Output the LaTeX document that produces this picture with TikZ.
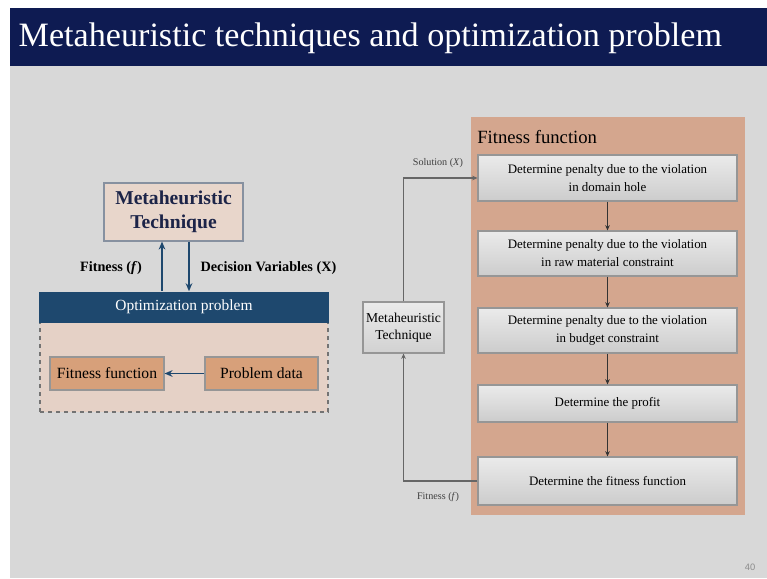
\documentclass[tikz,border=0pt]{standalone}
\usepackage{fontspec}
\setmainfont{Liberation Serif}
\newfontfamily\pagenumfont{Liberation Sans}
\usepackage{tikz}
\usetikzlibrary{positioning}
\usetikzlibrary{arrows.meta}

\definecolor{titlenavy}{RGB}{14,27,82}
\definecolor{slidegray}{RGB}{216,216,216}
\definecolor{metafill}{RGB}{232,214,203}
\definecolor{metaline}{RGB}{135,145,160}
\definecolor{metatext}{RGB}{28,36,72}
\definecolor{optblue}{RGB}{30,72,110}
\definecolor{dashfill}{RGB}{229,209,198}
\definecolor{orangebox}{RGB}{215,160,122}
\definecolor{panelfill}{RGB}{212,166,142}
\definecolor{boxline}{RGB}{150,150,150}

\tikzset{
  leftbox/.style={draw=boxline, fill=orangebox, line width=0.8pt, inner sep=0pt,
    font=\fontsize{11.7}{13}\selectfont},
  stepbox/.style={draw=boxline, line width=0.8pt, top color=white!92!black,
    bottom color=white!80!black, inner sep=0pt, minimum width=259*0.75pt,
    align=center, font=\fontsize{9.7}{13.5}\selectfont},
  bluearrow/.style={draw=optblue, line width=1.2pt, -{Stealth[length=6pt,width=5pt]}},
  grayarrow/.style={draw=black!60, line width=0.8pt, -{Stealth[length=4pt,width=3.5pt]}},
  downarrow/.style={draw=black!80, line width=0.7pt, -{Stealth[length=4pt,width=3.5pt]}},
  smalllabel/.style={font=\fontsize{7.6}{9}\selectfont, text=black!75}
}

\begin{document}
\begin{tikzpicture}[x=0.75pt,y=0.75pt,yscale=-1,xscale=1]
\useasboundingbox (0,0) rectangle (767,578);
\fill [white] (0,0) rectangle (767,578);
\fill [slidegray] (10,8) rectangle (767,578);

% Title bar
\fill [titlenavy] (10,8) rectangle (767,66);
\node (title) [anchor=west, text=white, font=\fontsize{25.6}{28}\selectfont] at (14,38)
  {Metaheuristic techniques and optimization problem};

%%% left picture
% Text Node
\node (meta) [draw=metaline, fill=metafill, line width=0.9pt, inner sep=0pt,
  minimum width=139*0.75pt, minimum height=58*0.75pt, align=center, text=metatext,
  font=\fontsize{14.7}{18}\selectfont\bfseries] at (173.5,212) {Metaheuristic\\Technique};
% Dashed frame
\node (optframe) [draw=black!55, dashed, fill=dashfill, line width=0.8pt, inner sep=0pt,
  minimum width=288*0.75pt, minimum height=110*0.75pt] at (184,357) {};
% Text Node
\node (opt) [fill=optblue, text=white, inner sep=0pt, minimum width=290*0.75pt,
  minimum height=31*0.75pt, font=\fontsize{11.6}{13}\selectfont] at (184,307) {Optimization problem};
% Text Node
\node (fitfun) [leftbox, minimum width=114*0.75pt, minimum height=33*0.75pt] at (107,373.5) {Fitness function};
\node (probdata) [leftbox, minimum width=113*0.75pt, minimum height=33*0.75pt] at (261.5,373.5) {Problem data};
% Text Node
\node (fitlbl) [font=\fontsize{10.7}{12}\selectfont\bfseries] at (111,268) {Fitness (\textit{f})};
\node (declbl) [font=\fontsize{10.7}{12}\selectfont\bfseries] at (268.5,268) {Decision Variables (X)};
% Connection
\coordinate (upx) at (162,0);
\coordinate (downx) at (189,0);
\draw [bluearrow] (opt.north -| upx) -- (meta.south -| upx);
\draw [bluearrow] (meta.south -| downx) -- (opt.north -| downx);
\draw [bluearrow] (probdata.west) -- (fitfun.east);

%%% right picture
% Panel
\node (panel) [fill=panelfill, inner sep=0pt, minimum width=274*0.75pt,
  minimum height=398*0.75pt] at (608,316) {};
\node (paneltitle) [anchor=west, inner sep=0pt, font=\fontsize{14}{16}\selectfont] at (477,137) {Fitness function};
% Text Node
\node (penhole) [stepbox, minimum height=46*0.75pt] at (607.5,178)
  {Determine penalty due to the violation\\in domain hole};
\node (penraw) [stepbox, minimum height=45*0.75pt] at (607.5,253.5)
  {Determine penalty due to the violation\\in raw material constraint};
\node (penbudget) [stepbox, minimum height=45*0.75pt] at (607.5,330.5)
  {Determine penalty due to the violation\\in budget constraint};
\node (profit) [stepbox, minimum height=37*0.75pt] at (607.5,403.5) {Determine the profit};
\node (fitvalue) [stepbox, minimum height=48*0.75pt] at (607.5,481) {Determine the fitness function};
% Text Node
\node (meta2) [draw=boxline, line width=0.8pt, top color=white!92!black,
  bottom color=white!82!black, inner sep=0pt, minimum width=81*0.75pt,
  minimum height=51*0.75pt, align=center, font=\fontsize{10.2}{13}\selectfont] at (403.5,327.5)
  {Metaheuristic\\Technique};
% Text Node
\node (sollbl) [smalllabel] at (438,163) {Solution (\textit{X})};
\node (fitlbl2) [smalllabel] at (438,497) {Fitness (\textit{f})};
% Connection
\draw [downarrow] (penhole) -- (penraw);
\draw [downarrow] (penraw) -- (penbudget);
\draw [downarrow] (penbudget) -- (profit);
\draw [downarrow] (profit) -- (fitvalue);
\draw [grayarrow] (meta2.north) |- (penhole.west);
\draw [grayarrow] (fitvalue.west) -| (meta2.south);

% page number
\node (pagenum) [text=black!45, font=\pagenumfont\fontsize{7}{8}\selectfont] at (750,567) {40};
\end{tikzpicture}
\end{document}
